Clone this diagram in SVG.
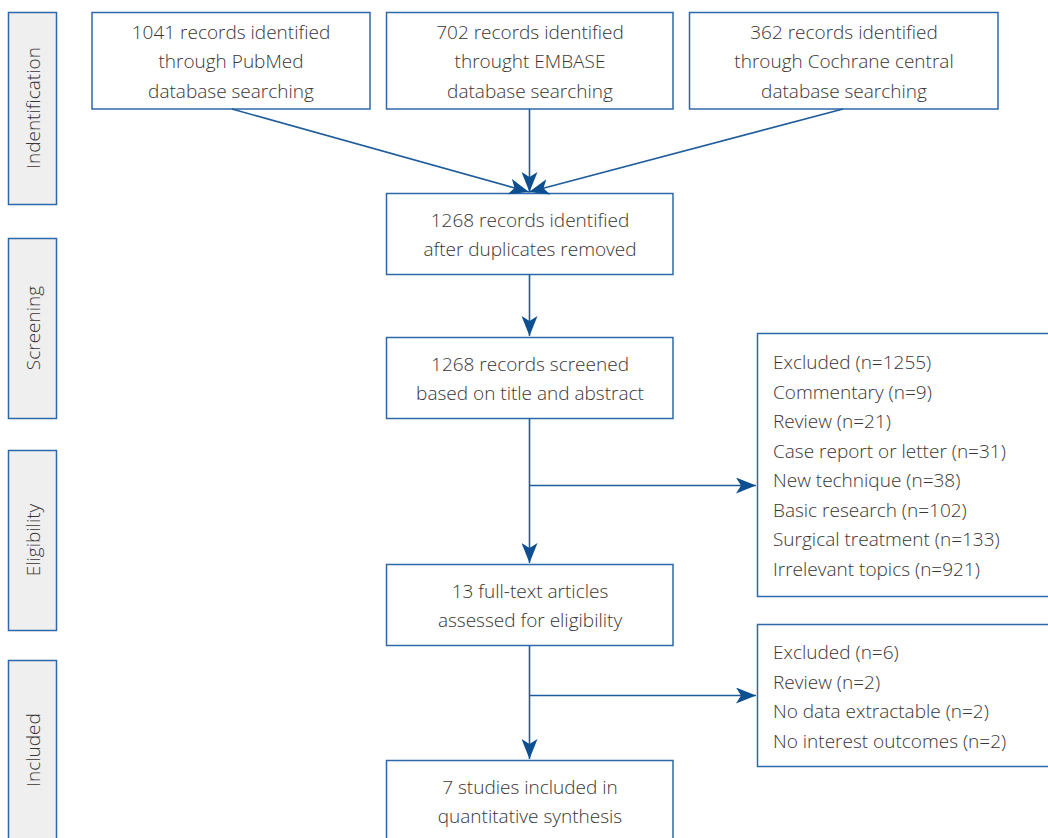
<svg xmlns="http://www.w3.org/2000/svg" width="1048" height="838" viewBox="0 0 1048 838">
<style>
.box{fill:#ffffff;stroke:#2e68aa;stroke-width:1.5}
.side{fill:#efefef;stroke:#2e68aa;stroke-width:1.5}
.t{font-family:"Open Sans","Noto Sans","Liberation Sans",sans-serif;font-size:19px;fill:#3a3535;font-weight:300}
.c{text-anchor:middle}
.conn{stroke:#1f5c9c;stroke-width:1.6;fill:none}
</style>
<defs>
<marker id="ah" viewBox="0 0 20 16" refX="20" refY="8" markerWidth="20" markerHeight="16" markerUnits="userSpaceOnUse" orient="auto">
<path d="M0,0 L20,8 L0,16 L5,8 Z" fill="#0d4f90"/>
</marker>
</defs>
<rect width="1048" height="838" fill="#ffffff"/>
<g id="side-identification"><rect class="side" x="8.5" y="12.5" width="48" height="192"/><text class="t c" transform="translate(40,108) rotate(-90)">Indentification</text></g>
<g id="side-screening"><rect class="side" x="8.5" y="238.5" width="48" height="180"/><text class="t c" transform="translate(40,328) rotate(-90)">Screening</text></g>
<g id="side-eligibility"><rect class="side" x="8.5" y="450.5" width="48" height="180"/><text class="t c" transform="translate(40,540) rotate(-90)">Eligibility</text></g>
<g id="side-included"><rect class="side" x="8.5" y="660.5" width="48" height="190"/><text class="t c" transform="translate(40,750) rotate(-90)">Included</text></g>

<g id="pubmed"><rect class="box" x="92" y="12.5" width="278" height="96.5"/>
<text class="t c" x="231" y="39">1041 records identified</text>
<text class="t c" x="231" y="68">through PubMed</text>
<text class="t c" x="231" y="97.5">database searching</text></g>
<g id="embase"><rect class="box" x="386.5" y="12.5" width="286.5" height="96.5"/>
<text class="t c" x="530" y="39">702 records identified</text>
<text class="t c" x="530" y="68">throught EMBASE</text>
<text class="t c" x="530" y="97.5">database searching</text></g>
<g id="cochrane"><rect class="box" x="689.5" y="12.5" width="308.5" height="96.5"/>
<text class="t c" x="844" y="39">362 records identified</text>
<text class="t c" x="844" y="68">through Cochrane central</text>
<text class="t c" x="844" y="97.5">database searching</text></g>
<g id="dedup"><rect class="box" x="386.5" y="193.5" width="286.5" height="81"/>
<text class="t c" x="530" y="227">1268 records identified</text>
<text class="t c" x="530" y="256">after duplicates removed</text></g>
<g id="screened"><rect class="box" x="386.5" y="337.5" width="286.5" height="81"/>
<text class="t c" x="530" y="371">1268 records screened</text>
<text class="t c" x="530" y="400">based on title and abstract</text></g>
<g id="fulltext"><rect class="box" x="386.5" y="564.5" width="286.5" height="81"/>
<text class="t c" x="530" y="598">13 full-text articles</text>
<text class="t c" x="530" y="627">assessed for eligibility</text></g>
<g id="included"><rect class="box" x="386.5" y="760.5" width="286.5" height="90"/>
<text class="t c" x="530" y="794">7 studies included in</text>
<text class="t c" x="530" y="823">quantitative synthesis</text></g>
<g id="excluded1"><rect class="box" x="757.5" y="333.5" width="300" height="263"/>
<text class="t" x="773" y="369">Excluded (n=1255)</text>
<text class="t" x="773" y="398.5">Commentary (n=9)</text>
<text class="t" x="773" y="428">Review (n=21)</text>
<text class="t" x="773" y="457.5">Case report or letter (n=31)</text>
<text class="t" x="773" y="487">New technique (n=38)</text>
<text class="t" x="773" y="516.5">Basic research (n=102)</text>
<text class="t" x="773" y="546">Surgical treatment (n=133)</text>
<text class="t" x="773" y="575.5">Irrelevant topics (n=921)</text></g>
<g id="excluded2"><rect class="box" x="757.5" y="624.5" width="300" height="142"/>
<text class="t" x="773" y="659">Excluded (n=6)</text>
<text class="t" x="773" y="688.5">Review (n=2)</text>
<text class="t" x="773" y="718">No data extractable (n=2)</text>
<text class="t" x="773" y="747.5">No interest outcomes (n=2)</text></g>

<g id="connectors">
<line class="conn" x1="232" y1="109" x2="529" y2="192" marker-end="url(#ah)"/>
<line class="conn" x1="529.5" y1="109" x2="529.5" y2="192" marker-end="url(#ah)"/>
<line class="conn" x1="843" y1="109" x2="529" y2="192" marker-end="url(#ah)"/>
<line class="conn" x1="529.5" y1="275" x2="529.5" y2="336" marker-end="url(#ah)"/>
<line class="conn" x1="529.5" y1="419" x2="529.5" y2="563" marker-end="url(#ah)"/>
<line class="conn" x1="529.5" y1="485.5" x2="756" y2="485.5" marker-end="url(#ah)"/>
<line class="conn" x1="529.5" y1="646" x2="529.5" y2="759" marker-end="url(#ah)"/>
<line class="conn" x1="529.5" y1="695.5" x2="756" y2="695.5" marker-end="url(#ah)"/>
</g>
</svg>
